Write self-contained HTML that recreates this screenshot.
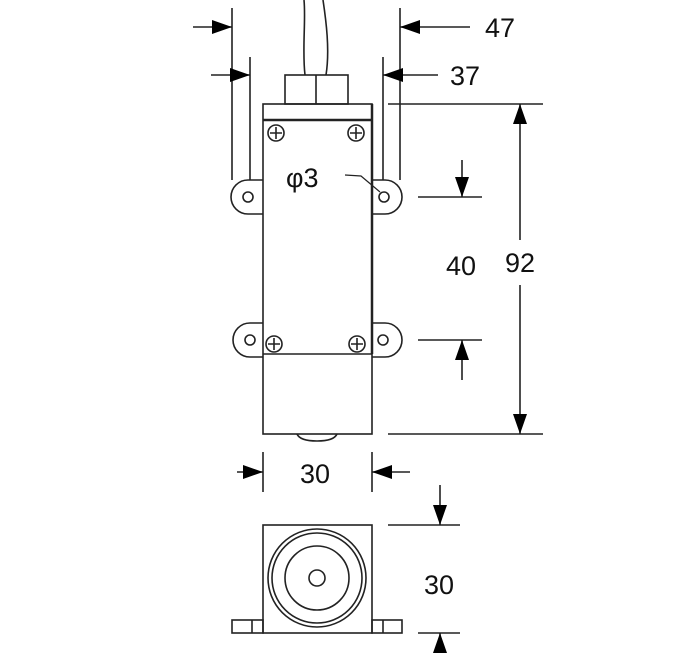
<!DOCTYPE html>
<html><head><style>body{margin:0;background:#fff}svg{display:block}text{font-family:"Liberation Sans",sans-serif;font-size:27px;fill:#111}</style></head><body>
<svg width="700" height="653" viewBox="0 0 700 653" xmlns="http://www.w3.org/2000/svg">
<defs><marker id="a" markerWidth="20" markerHeight="14" refX="20" refY="7" orient="auto" markerUnits="userSpaceOnUse"><path d="M0,0 L20,7 L0,14z" fill="#000"/></marker></defs>
<g stroke="#222" stroke-width="1.6" fill="none">
<path d="M304,0 C306,20 302,50 305,75"/><path d="M323,0 C326,20 330,50 326,75"/>
<rect x="285" y="75" width="63" height="29"/><line x1="316" y1="75" x2="316" y2="104"/>
<rect x="263" y="104" width="109" height="330"/>
<line x1="263" y1="120" x2="372" y2="120" stroke-width="2.5"/>
<line x1="372" y1="104" x2="372" y2="354" stroke-width="2.5"/>
<line x1="263" y1="354" x2="372" y2="354"/>
<path d="M297,434 Q300,441 317,441 Q334,441 337,434"/>
<path d="M263,180 L248,180 A17,17 0 0 0 248,214 L263,214"/><circle cx="248" cy="197" r="5"/>
<path d="M372,180 L385,180 A17,17 0 0 1 385,214 L372,214"/><circle cx="384" cy="197" r="5"/>
<path d="M263,323 L250,323 A17,17 0 0 0 250,357 L263,357"/><circle cx="250" cy="340" r="5"/>
<path d="M372,323 L385,323 A17,17 0 0 1 385,357 L372,357"/><circle cx="383" cy="340" r="5"/>
<g><circle cx="276" cy="133" r="8"/><path d="M270,133h12M276,127v12"/></g>
<g><circle cx="356" cy="133" r="8"/><path d="M350,133h12M356,127v12"/></g>
<g><circle cx="274" cy="344" r="8"/><path d="M268,344h12M274,338v12"/></g>
<g><circle cx="357" cy="344" r="8"/><path d="M351,344h12M357,338v12"/></g>
<line x1="232" y1="8" x2="232" y2="180"/><line x1="250" y1="57" x2="250" y2="180"/>
<line x1="383" y1="57" x2="383" y2="180"/><line x1="400" y1="8" x2="400" y2="180"/>
<line x1="193" y1="27" x2="232" y2="27" marker-end="url(#a)"/>
<line x1="211" y1="75" x2="250" y2="75" marker-end="url(#a)"/>
<line x1="470" y1="27" x2="400" y2="27" marker-end="url(#a)"/>
<line x1="438" y1="75" x2="383" y2="75" marker-end="url(#a)"/>
<path d="M345,175 L361,176 L380,192" stroke-width="1.2"/>
<line x1="388" y1="104" x2="543" y2="104"/><line x1="388" y1="434" x2="543" y2="434"/>
<line x1="520" y1="240" x2="520" y2="104" marker-end="url(#a)"/>
<line x1="520" y1="285" x2="520" y2="434" marker-end="url(#a)"/>
<line x1="418" y1="197" x2="482" y2="197"/><line x1="418" y1="340" x2="482" y2="340"/>
<line x1="462" y1="160" x2="462" y2="197" marker-end="url(#a)"/>
<line x1="462" y1="380" x2="462" y2="340" marker-end="url(#a)"/>
<line x1="263" y1="452" x2="263" y2="492"/><line x1="372" y1="452" x2="372" y2="492"/>
<line x1="237" y1="472" x2="263" y2="472" marker-end="url(#a)"/>
<line x1="410" y1="472" x2="372" y2="472" marker-end="url(#a)"/>
<rect x="263" y="525" width="109" height="108"/>
<rect x="232" y="620" width="31" height="13"/><line x1="252" y1="620" x2="252" y2="633"/>
<rect x="372" y="620" width="30" height="13"/><line x1="383" y1="620" x2="383" y2="633"/>
<circle cx="317" cy="578" r="49"/><circle cx="317" cy="578" r="45"/><circle cx="317" cy="578" r="32"/><circle cx="317" cy="578" r="8"/>
<line x1="388" y1="525" x2="460" y2="525"/><line x1="418" y1="633" x2="460" y2="633"/>
<line x1="440" y1="485" x2="440" y2="525" marker-end="url(#a)"/>
<line x1="440" y1="653" x2="440" y2="633" marker-end="url(#a)"/>
</g>
<text x="485" y="37">47</text><text x="450" y="85">37</text>
<text x="286" y="187">φ3</text>
<text x="505" y="272">92</text><text x="446" y="275">40</text>
<text x="300" y="483">30</text><text x="424" y="594">30</text>
</svg>
</body></html>
